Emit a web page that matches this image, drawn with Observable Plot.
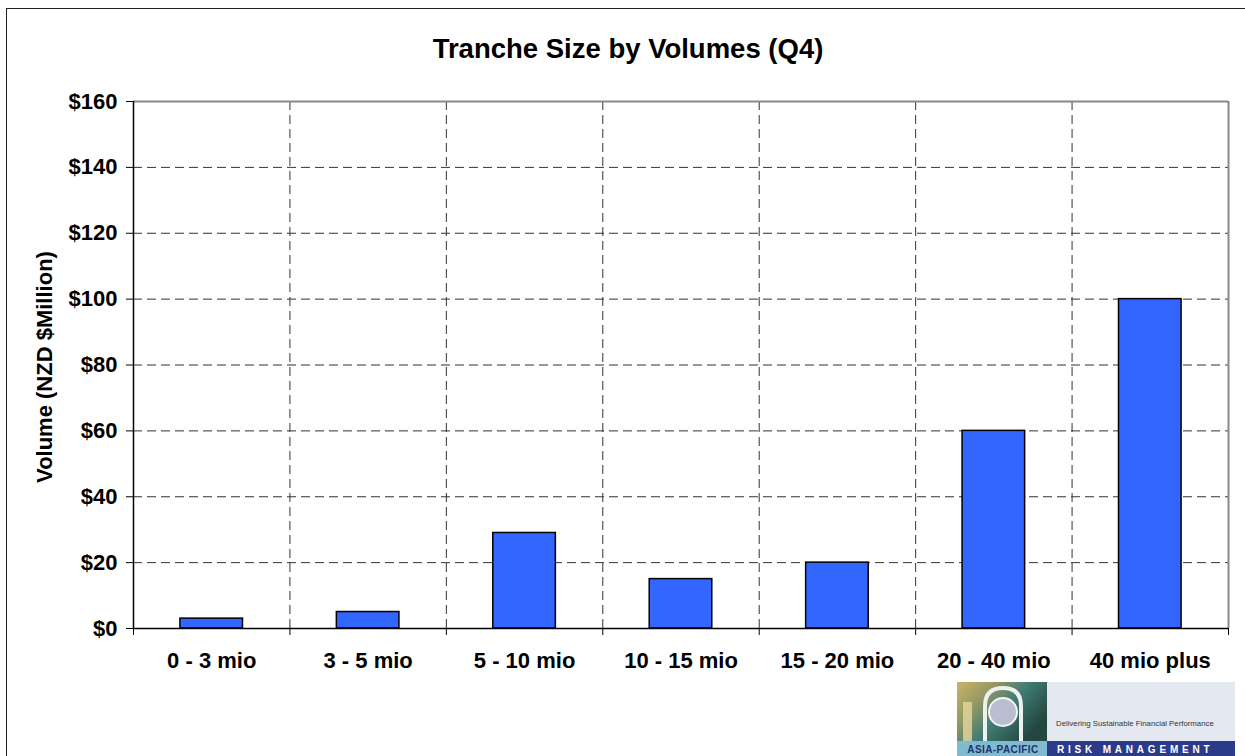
<!DOCTYPE html>
<html>
<head>
<meta charset="utf-8">
<script src="https://cdn.jsdelivr.net/npm/d3@7"></script>
<script src="https://cdn.jsdelivr.net/npm/@observablehq/plot@0.6"></script>
<style>
  html, body { margin: 0; padding: 0; background: #fff; }
  #wrap { position: relative; width: 1245px; height: 756px; overflow: hidden; font-family: "Liberation Sans", Arial, sans-serif; }
  #frame { position: absolute; left: 6px; top: 8px; width: 1260px; height: 780px; border: 1px solid #222; box-sizing: border-box; }
  #title { position: absolute; left: 0; width: 1256px; top: 33px; text-align: center; font-weight: bold; font-size: 27.5px; line-height: 1.15; color: #000; }
  #ytitle { position: absolute; left: 45px; top: 367px; transform: translate(-50%, -50%) rotate(-90deg); white-space: nowrap; font-weight: bold; font-size: 22px; color: #000; }
  #chart { position: absolute; left: 0; top: 0; }
  #logo { position: absolute; left: 957px; top: 682px; width: 278px; height: 74px; }
</style>
</head>
<body>
<div id="wrap">
  <div id="frame"></div>
  <div id="chart"></div>
  <div id="title">Tranche Size by Volumes (Q4)</div>
  <div id="ytitle">Volume (NZD $Million)</div>
  <svg id="logo" width="278" height="74" viewBox="0 0 278 74">
    <defs>
      <linearGradient id="pic" x1="0" y1="0" x2="1" y2="0.6">
        <stop offset="0" stop-color="#c8b46c"/>
        <stop offset="0.3" stop-color="#9a9a62"/>
        <stop offset="0.6" stop-color="#3f7c74"/>
        <stop offset="1" stop-color="#23463f"/>
      </linearGradient>
    </defs>
    <rect x="0" y="0" width="90" height="59" fill="url(#pic)"/>
    <path d="M28 59 L28 24 Q28 6 46 6 Q64 6 64 24 L64 59" fill="none" stroke="#eef0f0" stroke-width="4"/>
    <circle cx="46" cy="30" r="14" fill="#b9bfd0" stroke="#f4f4f4" stroke-width="2"/>
    <rect x="6" y="20" width="9" height="39" fill="#e0d29c" opacity="0.85"/>
    <rect x="90" y="0" width="188" height="59" fill="#e4e9f1"/>
    <text x="99" y="44" font-size="7.8" fill="#333" font-family="Liberation Sans, Arial">Delivering Sustainable Financial Performance</text>
    <rect x="0" y="59" width="90" height="15" fill="#7fbad0"/>
    <rect x="90" y="59" width="188" height="15" fill="#2c3a8a"/>
    <text x="46" y="71" font-size="10" text-anchor="middle" fill="#24306e" font-weight="bold" font-family="Liberation Sans, Arial" letter-spacing="0.4">ASIA-PACIFIC</text>
    <text x="100" y="71" font-size="10" fill="#ffffff" font-weight="bold" font-family="Liberation Sans, Arial" letter-spacing="3.8">RISK MANAGEMENT</text>
  </svg>
</div>
<script>
const categories = ["0 - 3 mio", "3 - 5 mio", "5 - 10 mio", "10 - 15 mio", "15 - 20 mio", "20 - 40 mio", "40 mio plus"];
const volumes = [3, 5, 29, 15, 20, 60, 100];
const yTicks = [0, 20, 40, 60, 80, 100, 120, 140, 160];

const rows = categories.map((c, i) => ({ category: c, index: i, value: volumes[i] }));
const boundaries = d3.range(0, categories.length + 1);
const inner = boundaries.slice(1, -1);
const centers = categories.map((c, i) => i + 0.5);
const half = 0.2; // half bar width in band units

const dash = "9,5";
const chart = Plot.plot({
  width: 1245,
  height: 756,
  marginLeft: 133,
  marginRight: 17,
  marginTop: 101,
  marginBottom: 128,
  style: { fontFamily: "Liberation Sans, Arial, sans-serif", fontSize: "22px", fontWeight: "bold", color: "#000", background: "transparent", overflow: "visible" },
  x: { type: "linear", domain: [0, categories.length] },
  y: { domain: [0, 160] },
  marks: [
    Plot.gridY(yTicks.slice(1, -1), { stroke: "#333", strokeOpacity: 1, strokeDasharray: dash }),
    Plot.ruleX(inner, { stroke: "#333", strokeOpacity: 1, strokeDasharray: dash }),
    Plot.ruleY([160], { stroke: "#888", strokeWidth: 2 }),
    Plot.ruleX([categories.length], { stroke: "#888", strokeWidth: 2 }),
    Plot.rectY(rows, { x1: d => d.index + 0.5 - half, x2: d => d.index + 0.5 + half, y1: 0, y2: "value", fill: "#3366ff", stroke: "#000", strokeWidth: 1.5 }),
    Plot.ruleX([0], { stroke: "#000", strokeWidth: 1.5 }),
    Plot.ruleY([0], { stroke: "#000", strokeWidth: 1.5 }),
    Plot.axisY({ ticks: yTicks, tickFormat: d => "$" + d, tickSize: 7, tickPadding: 9, label: null, stroke: "#000" }),
    Plot.axisX({ ticks: boundaries, tickFormat: () => "", tickSize: 7, label: null, stroke: "#000" }),
    Plot.axisX({ ticks: centers, tickFormat: d => categories[Math.floor(d)], tickSize: 0, tickPadding: 24, label: null })
  ]
});
document.getElementById("chart").appendChild(chart);
</script>
</body>
</html>
